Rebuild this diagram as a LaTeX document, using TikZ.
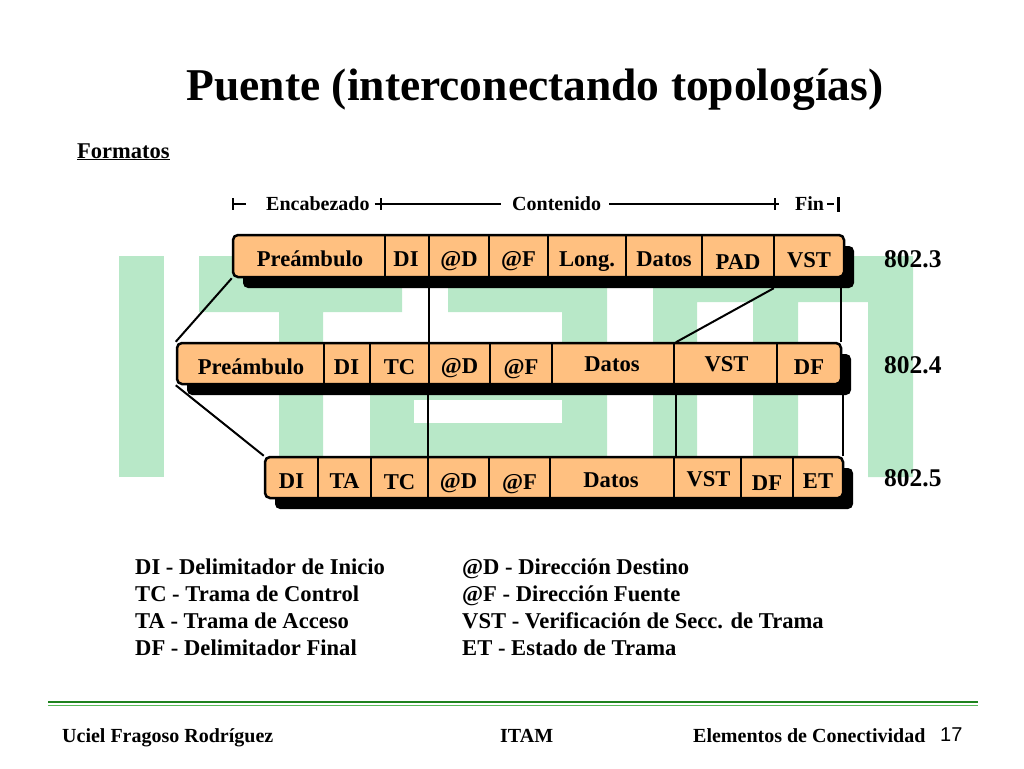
\documentclass[tikz,border=0pt]{standalone}
\usepackage{fontspec}
\setmainfont{Liberation Serif}
\newfontfamily\arialfont{Liberation Sans}
\usetikzlibrary{shadows}
\definecolor{celda}{RGB}{255,192,128}
\definecolor{logo}{RGB}{184,232,200}
\definecolor{verde}{RGB}{30,130,30}
\definecolor{verdeclaro}{RGB}{90,185,90}
\newcommand\cellfont{\fontsize{22.6}{24}\selectfont\bfseries}
\newcommand\brkfont{\fontsize{20}{22}\selectfont\bfseries}
\begin{document}
\begin{tikzpicture}[x=1pt,y=-1pt,
  frame/.style={draw, line width=2.5pt, fill=celda, rounded corners=5pt, inner sep=0pt,
    drop shadow={shadow xshift=10pt, shadow yshift=-11pt, opacity=1, fill=black}},
  cell/.style={inner sep=0pt, minimum height=42pt, text height=21pt, text depth=0pt, font=\cellfont},
  sep/.style={line width=2pt},
  link/.style={line width=2pt}]
\useasboundingbox[fill=white] (0,0) rectangle (1024,768);

% logo ITAM de fondo
\fill[logo] (119,256) rectangle (164,477);
\fill[logo] (199,256) rectangle (402,312) (279,256) rectangle (323,477);
\fill[logo] (448,256) rectangle (607,312) (562,256) rectangle (607,477) (370,385) rectangle (607,477);
\fill[white] (414,400) rectangle (562,423);
\fill[logo] (653,256) rectangle (913,302) (653,256) rectangle (697,477) (753,256) rectangle (798,477) (868,256) rectangle (913,477);

\node[font=\fontsize{45.5}{50}\selectfont\bfseries, anchor=base] (titulo) at (535,100) {Puente (interconectando topolog\'ias)};
\node[font=\fontsize{22.5}{24}\selectfont\bfseries, anchor=base west, inner sep=0pt] (formatos) at (77,158) {\underline{Formatos}};

% encabezado / contenido / fin
\node[font=\brkfont, anchor=west, inner sep=0pt] (enc) at (266,204) {Encabezado};
\node[font=\brkfont, anchor=west, inner sep=0pt] (cont) at (512,204) {Contenido};
\node[font=\brkfont, anchor=west, inner sep=0pt] (fin) at (795,204) {Fin};
\draw[line width=2pt] (233,198) -- (233,210) (233,204) -- (246,204);
\draw[line width=2pt] ([xshift=5pt]enc.east) -- ([xshift=-11pt]cont.west) (381,198) -- (381,210);
\draw[line width=2pt] ([xshift=8pt]cont.east) -- ([xshift=-16pt]fin.west) (775,198) -- (775,210);
\draw[line width=2pt] ([xshift=3pt]fin.east) -- ([xshift=10pt]fin.east);
\draw[line width=3pt] ([xshift=14pt,yshift=7pt]fin.east) -- ([xshift=14pt,yshift=-8pt]fin.east);

% 802.3
\node[frame, minimum width=611pt, minimum height=42pt] (f3) at (538.5,256) {};
\node[cell, minimum width=150pt] (p3pre) at (310,256) {Pre\'ambulo};
\node[cell, minimum width=46pt] (p3di) at (406,256) {DI};
\node[cell, minimum width=60pt] (p3d) at (459,256) {@D};
\node[cell, minimum width=59pt] (p3f) at (518.5,256) {@F};
\node[cell, minimum width=78pt] (p3lon) at (587,256) {Long.};
\node[cell, minimum width=76pt] (p3dat) at (664,256) {Datos};
\node[cell, minimum width=72pt] (p3pad) at (738,256) {\raisebox{-3pt}{PAD}};
\node[cell, minimum width=70pt] (p3vst) at (809,256) {\raisebox{-1pt}{VST}};
\draw[sep] (p3pre.north east) -- (p3pre.south east) (p3di.north east) -- (p3di.south east)
  (p3d.north east) -- (p3d.south east) (p3f.north east) -- (p3f.south east)
  (p3lon.north east) -- (p3lon.south east) (p3dat.north east) -- (p3dat.south east)
  (p3pad.north east) -- (p3pad.south east);
\node[font=\fontsize{25.5}{27}\selectfont\bfseries, anchor=west, inner sep=0pt] (n3) at (884,259) {802.3};

% 802.4
\node[frame, minimum width=664pt, minimum height=41pt] (f4) at (509,363.5) {};
\node[cell, minimum width=146pt] (p4pre) at (251,363.5) {Pre\'ambulo};
\node[cell, minimum width=47pt] (p4di) at (346.5,363.5) {DI};
\node[cell, minimum width=59pt] (p4tc) at (399.5,363.5) {TC};
\node[cell, minimum width=61pt] (p4d) at (459.5,363.5) {\raisebox{1pt}{@D}};
\node[cell, minimum width=62pt] (p4f) at (521,363.5) {@F};
\node[cell, minimum width=124pt] (p4dat) at (612,363.5) {\raisebox{3pt}{Datos}};
\node[cell, minimum width=101pt] (p4vst) at (726.5,363.5) {\raisebox{3pt}{VST}};
\node[cell, minimum width=64pt] (p4df) at (809,363.5) {DF};
\draw[sep] (p4pre.north east) -- (p4pre.south east) (p4di.north east) -- (p4di.south east)
  (p4tc.north east) -- (p4tc.south east) (p4d.north east) -- (p4d.south east)
  (p4f.north east) -- (p4f.south east) (p4dat.north east) -- (p4dat.south east)
  (p4vst.north east) -- (p4vst.south east);
\node[font=\fontsize{25.5}{27}\selectfont\bfseries, anchor=west, inner sep=0pt] (n4) at (884,365.5) {802.4};

% 802.5
\node[frame, minimum width=578pt, minimum height=41pt] (f5) at (554,477.5) {};
\node[cell, minimum width=53pt] (p5di) at (291.5,477.5) {DI};
\node[cell, minimum width=53pt] (p5ta) at (344.5,477.5) {TA};
\node[cell, minimum width=57pt] (p5tc) at (399.5,477.5) {\raisebox{-1pt}{TC}};
\node[cell, minimum width=61pt] (p5d) at (458.5,477.5) {@D};
\node[cell, minimum width=61pt] (p5f) at (519.5,477.5) {\raisebox{-1pt}{@F}};
\node[cell, minimum width=126pt] (p5dat) at (611,477.5) {\raisebox{1pt}{Datos}};
\node[cell, minimum width=65pt] (p5vst) at (708.5,477.5) {\raisebox{2pt}{VST}};
\node[cell, minimum width=52pt] (p5df) at (767,477.5) {\raisebox{-2pt}{DF}};
\node[cell, minimum width=50pt] (p5et) at (818,477.5) {ET};
\draw[sep] (p5di.north east) -- (p5di.south east) (p5ta.north east) -- (p5ta.south east)
  (p5tc.north east) -- (p5tc.south east) (p5d.north east) -- (p5d.south east)
  (p5f.north east) -- (p5f.south east) (p5dat.north east) -- (p5dat.south east)
  (p5vst.north east) -- (p5vst.south east) (p5df.north east) -- (p5df.south east);
\node[font=\fontsize{25.5}{27}\selectfont\bfseries, anchor=west, inner sep=0pt] (n5) at (884,478) {802.5};

% lineas entre formatos
\draw[link] (f3.south west) -- (f4.north west);
\draw[link] (p4d.north west) -- (p4d.north west |- f3.south);
\draw[link] ([yshift=-11pt]p3vst.south west) -- (p4vst.north west);
\draw[link] (p4df.north east) -- (p4df.north east |- f3.south);
\draw[link] (f4.south west) -- (f5.north west);
\draw[link] (p5d.north west) -- (p5d.north west |- f4.south);
\draw[link] (p5vst.north west) -- (p5vst.north west |- f4.south);
\draw[link] (p5et.north east) -- (p5et.north east |- f4.south);

% abreviaturas
\node[font=\cellfont, anchor=base west, inner sep=0pt] (l1) at (135,574) {DI - Delimitador de Inicio};
\node[font=\cellfont, anchor=base west, inner sep=0pt] (l2) at (135,601) {TC - Trama de Control};
\node[font=\cellfont, anchor=base west, inner sep=0pt] (l3) at (135,628) {TA - Trama de Acceso};
\node[font=\cellfont, anchor=base west, inner sep=0pt] (l4) at (135,655) {DF - Delimitador Final};
\node[font=\cellfont, anchor=base west, inner sep=0pt] (r1) at (462,574) {@D - Direcci\'on Destino};
\node[font=\cellfont, anchor=base west, inner sep=0pt] (r2) at (462,601) {@F - Direcci\'on Fuente};
\node[font=\cellfont, anchor=base west, inner sep=0pt] (r3) at (462,628) {VST - Verificaci\'on de Secc. de Trama};
\node[font=\cellfont, anchor=base west, inner sep=0pt] (r4) at (462,655) {ET - Estado de Trama};

% pie
\draw[verde, line width=2pt] (48,702) -- (978,702);
\draw[verdeclaro, line width=1pt] (48,705.5) -- (978,705.5);
\node[font=\fontsize{20}{22}\selectfont\bfseries, anchor=base west, inner sep=0pt] (autor) at (62,742) {Uciel Fragoso Rodr\'iguez};
\node[font=\fontsize{20}{22}\selectfont\bfseries, anchor=base west, inner sep=0pt] (itam) at (500,742) {ITAM};
\node[font=\fontsize{20}{22}\selectfont\bfseries, anchor=base west, inner sep=0pt] (tema) at (693,742) {Elementos de Conectividad};
\node[font=\fontsize{20}{22}\selectfont\arialfont, anchor=base west, inner sep=0pt] (pag) at (940,741) {17};
\end{tikzpicture}
\end{document}
